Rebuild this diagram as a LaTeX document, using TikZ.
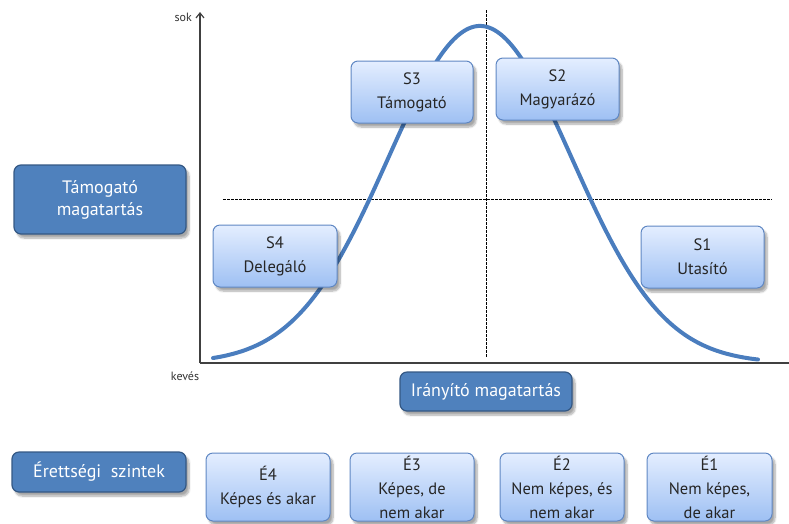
\documentclass[tikz,border=0pt]{standalone}
\usepackage{fontspec}
\setmainfont{PT Sans}
\usetikzlibrary{arrows.meta,shadows.blur}
\definecolor{darkbox}{RGB}{79,129,189}
\definecolor{darkedge}{RGB}{52,88,132}
\definecolor{lighttop}{RGB}{228,238,255}
\definecolor{lightbot}{RGB}{158,192,243}
\definecolor{lightedge}{RGB}{95,135,195}
\definecolor{curveblue}{RGB}{74,125,190}
\tikzset{
  shad/.style={blur shadow={shadow xshift=3pt, shadow yshift=-4pt, shadow blur steps=8, shadow opacity=35}},
  darkbox/.style={shad, draw=darkedge, line width=1.2pt, fill=darkbox, rounded corners=7pt,
     text=white, align=center, inner sep=0pt, font=\fontsize{18}{22}\selectfont},
  lightbox/.style={shad, draw=lightedge, line width=1pt, top color=lighttop, bottom color=lightbot,
     rounded corners=7pt, text=black!85, align=center, inner sep=0pt, font=\fontsize{16.5}{24}\selectfont},
  axis/.style={line width=1.2pt, draw=black!75},
  guide/.style={line width=0.7pt, dash pattern=on 2.5pt off 1.5pt},
  small/.style={font=\fontsize{12}{14}\selectfont, text=black!80, inner sep=0pt}
}
\begin{document}
\begin{tikzpicture}[x=1pt,y=-1pt]
\useasboundingbox (0,0) rectangle (789,523);
% guides
\coordinate (vt) at (486,10);
\coordinate (vb) at (486,358);
\coordinate (hl) at (223,199);
\coordinate (hr) at (772,199);
\draw[guide] (vt) -- (vb);
\draw[guide] (hl) -- (hr);
% axes
\coordinate (top) at (200,12);
\coordinate (origin) at (200,363);
\coordinate (right) at (789,363);
\draw[axis,-{Straight Barb[length=5pt,width=8pt]}] (origin) -- (top);
\draw[axis] (origin) -- (right);
\node[small,anchor=east] (sok) at (192,17) {sok};
\node[small] (keves) at (185,376) {kevés};
% curve
\draw[curveblue, line width=4pt, line cap=round]
  plot[domain=213:758, samples=120, smooth] (\x, {363-337*exp(-((\x-480)/92)^2/2)});
% situational boxes
\node[lightbox, minimum width=122pt, minimum height=62pt] (s3) at (412,92) {S3\\Támogató};
\node[lightbox, minimum width=123pt, minimum height=62pt] (s2) at (557.5,89) {S2\\Magyarázó};
\node[lightbox, minimum width=124pt, minimum height=62pt] (s4) at (275,256) {S4\\Delegáló};
\node[lightbox, minimum width=123pt, minimum height=62pt] (s1) at (702.5,257) {S1\\Utasító};
% dark labels
\node[darkbox, minimum width=172pt, minimum height=69pt] (tam) at (100,199.5) {Támogató\\magatartás};
\node[darkbox, minimum width=172pt, minimum height=39pt] (iran) at (486,391.5) {Irányító magatartás};
\node[darkbox, minimum width=174pt, minimum height=40pt] (eret) at (99,472) {Érettségi\ \ szintek};
% maturity boxes
\node[lightbox, minimum width=124pt, minimum height=68pt] (e4) at (268,487) {É4\\Képes és akar};
\node[lightbox, minimum width=124pt, minimum height=68pt] (e3) at (412,487) {É3\\Képes, de\\nem akar};
\node[lightbox, minimum width=124pt, minimum height=68pt] (e2) at (562,487) {É2\\Nem képes, és\\nem akar};
\node[lightbox, minimum width=125pt, minimum height=68pt] (e1) at (709.5,487) {É1\\Nem képes,\\de akar};
\end{tikzpicture}
\end{document}
